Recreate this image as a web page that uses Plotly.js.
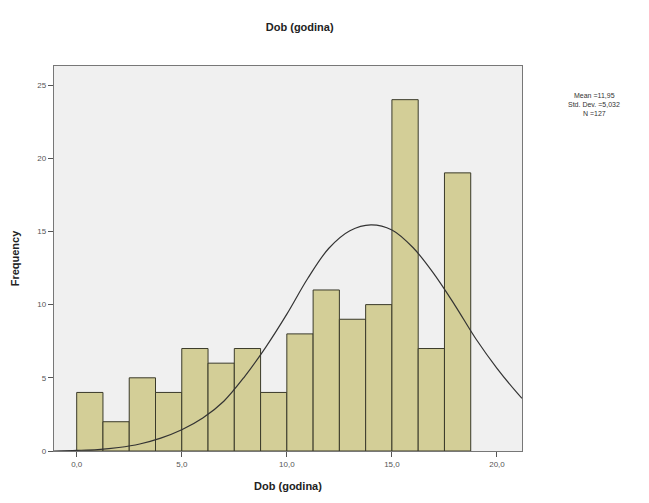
<!DOCTYPE html>
<html>
<head>
<meta charset="utf-8">
<script src="https://cdn.plot.ly/plotly-3.0.1.min.js"></script>
<style>html,body{margin:0;padding:0;background:#fff;}#chart{width:649px;height:503px;}</style>
</head>
<body>
<div id="chart"></div>
<script>
// Histogram bins (centers, width 1.25) and frequencies
const binCenters = [0.625, 1.875, 3.125, 4.375, 5.625, 6.875, 8.125, 9.375, 10.625, 11.875, 13.125, 14.375, 15.625, 16.875, 18.125];
const binWidth = 1.25;
const counts = [4, 2, 5, 4, 7, 6, 7, 4, 8, 11, 9, 10, 24, 7, 19];

// Normal curve points
const curveX = [-1.08, 0, 1, 2, 3, 4, 5, 6, 7, 8, 9, 10, 11, 12, 13, 14, 15, 16, 17, 18, 19, 20, 21, 21.19];
const curveY = [0.0, 0.04, 0.1, 0.24, 0.48, 0.88, 1.45, 2.25, 3.4, 5.1, 7.1, 9.35, 11.8, 13.85, 15.05, 15.45, 15.1, 13.9, 12.1, 9.95, 7.65, 5.65, 3.9, 3.6];

const xTickVals = [0, 5, 10, 15, 20];
const xTickText = ["0,0", "5,0", "10,0", "15,0", "20,0"];
const yTickVals = [0, 5, 10, 15, 20, 25];
const yTickText = ["0", "5", "10", "15", "20", "25"];

const statsLines = ["Mean =11,95", "Std. Dev. =5,032", "N =127"];
const chartTitle = "Dob (godina)";
const xTitle = "Dob (godina)";
const yTitle = "Frequency";

const FONT = "Liberation Sans, Arial, sans-serif";

const traces = [
  {
    type: "bar",
    x: binCenters,
    y: counts,
    width: binCenters.map(() => binWidth),
    marker: { color: "#d3ce97", line: { color: "#3a3a2a", width: 1 } },
    hoverinfo: "x+y",
    showlegend: false
  },
  {
    type: "scatter",
    mode: "lines",
    x: curveX,
    y: curveY,
    line: { color: "#333333", width: 1.2, shape: "spline", smoothing: 1 },
    showlegend: false,
    hoverinfo: "skip"
  }
];

const statsY = [0.9246, 0.9012, 0.8778];

const layout = {
  width: 649,
  height: 503,
  margin: { l: 54, r: 127, t: 66, b: 52, pad: 0 },
  paper_bgcolor: "#ffffff",
  plot_bgcolor: "#f0f0f0",
  bargap: 0,
  font: { family: FONT, size: 8, color: "#444" },
  title: {
    text: "<b>" + chartTitle + "</b>",
    font: { family: FONT, size: 11, color: "#222" },
    x: 0.525, xanchor: "center", xref: "paper",
    y: 0.947, yanchor: "middle", yref: "container"
  },
  xaxis: {
    range: [-1.08, 21.19],
    tickvals: xTickVals,
    ticktext: xTickText,
    ticks: "outside",
    ticklen: 5,
    tickcolor: "#555",
    showgrid: false,
    zeroline: false,
    showline: true,
    linecolor: "#777",
    linewidth: 1.2,
    mirror: true,
    tickfont: { family: FONT, size: 8, color: "#555" },
    title: { text: "<b>" + xTitle + "</b>", font: { family: FONT, size: 11, color: "#222" }, standoff: 14 }
  },
  yaxis: {
    range: [0, 26.3],
    tickvals: yTickVals,
    ticktext: yTickText,
    ticks: "outside",
    ticklen: 5,
    tickcolor: "#555",
    showgrid: false,
    zeroline: false,
    showline: true,
    linecolor: "#777",
    linewidth: 1.2,
    mirror: true,
    tickfont: { family: FONT, size: 8, color: "#555" },
    title: { text: "<b>" + yTitle + "</b>", font: { family: FONT, size: 11, color: "#222" }, standoff: 15 }
  },
  annotations: statsLines.map((t, i) => ({
    text: t,
    xref: "paper", yref: "paper",
    x: 1.1546, y: statsY[i],
    xanchor: "center", yanchor: "middle",
    align: "center",
    showarrow: false,
    borderpad: 0,
    font: { family: FONT, size: 7, color: "#333" }
  }))
};

Plotly.newPlot("chart", traces, layout, { displayModeBar: false, staticPlot: true });
</script>
</body>
</html>
